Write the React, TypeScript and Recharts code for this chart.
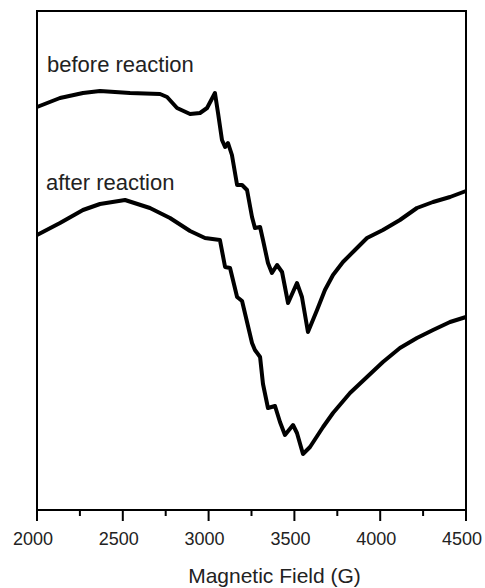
import React from 'react';
import { LineChart, Line, XAxis, YAxis, ReferenceArea } from 'recharts';

// field (G) and signal (arb. units)
const beforeField = [
  2000, 2134, 2268, 2367, 2542, 2717, 2758, 2816, 2892, 2950, 2991, 3037, 3055, 3078,
  3096, 3113, 3136, 3166, 3195, 3224, 3253, 3270, 3300, 3317, 3346, 3369, 3399, 3428,
  3463, 3515, 3544, 3579, 3632, 3678, 3725, 3783, 3853, 3923, 4016, 4115, 4214, 4308,
  4407, 4500,
];
const beforeSignal = [
  403, 412, 417, 419, 417, 416, 413, 402, 396, 397, 402, 417, 397, 370,
  363, 367, 355, 325, 325, 320, 293, 282, 283, 270, 247, 237, 245, 238,
  207, 227, 213, 178, 200, 220, 235, 248, 260, 272, 280, 290, 302, 308,
  313, 319,
];

const afterField = [
  2000, 2134, 2268, 2367, 2513, 2658, 2775, 2892, 2979, 3066, 3096, 3125, 3166, 3195,
  3253, 3270, 3300, 3317, 3346, 3387, 3416, 3445, 3492, 3515, 3550, 3591, 3667, 3725,
  3824, 3923, 4016, 4115, 4214, 4308, 4407, 4500,
];
const afterSignal = [
  275, 287, 300, 306, 310, 302, 292, 279, 272, 270, 243, 242, 213, 209,
  167, 160, 153, 126, 102, 104, 88, 75, 85, 77, 56, 63, 83, 97,
  117, 133, 148, 162, 172, 180, 188, 193,
];

const xTicks = [2000, 2250, 2500, 2750, 3000, 3250, 3500, 3750, 4000, 4250, 4500];
const labelTicks = [2000, 2500, 3000, 3500, 4000, 4500];

const beforeData = beforeField.map((f, i) => ({ field: f, signal: beforeSignal[i] }));
const afterData = afterField.map((f, i) => ({ field: f, signal: afterSignal[i] }));

const FONT = '"Liberation Sans", Arial, Helvetica, sans-serif';

const FieldTick = (props: any) => {
  const { x, y, payload } = props;
  const major = labelTicks.includes(payload.value);
  return (
    <g>
      <line x1={x} y1={y} x2={x} y2={y + (major ? 11 : 6)} stroke="#000" strokeWidth={2} />
      {major && (
        <text x={x - 4} y={y + 35} textAnchor="middle" fontSize={18} fill="#222" fontFamily={FONT}>
          {payload.value}
        </text>
      )}
    </g>
  );
};

const App: React.FC = () => {
  return (
    <div style={{ position: 'absolute', left: 0, top: 0, width: 485, height: 588, background: '#fff' }}>
      <LineChart width={485} height={588} margin={{ top: 11, right: 19, left: 37, bottom: 0 }}>
        <XAxis
          type="number"
          dataKey="field"
          domain={[2000, 4500]}
          ticks={xTicks}
          interval={0}
          allowDuplicatedCategory={false}
          height={78}
          tickSize={0}
          tickMargin={0}
          axisLine={false}
          tickLine={false}
          tick={<FieldTick />}
          label={{
            content: (p: any) => {
              const vb = p.viewBox;
              return (
                <text
                  x={vb.x + vb.width / 2 + 23}
                  y={vb.y + 73}
                  textAnchor="middle"
                  fontSize={21}
                  fill="#222"
                  fontFamily={FONT}
                >
                  Magnetic Field (G)
                </text>
              );
            },
          }}
        />
        <YAxis type="number" dataKey="signal" domain={[0, 499]} hide />
        <ReferenceArea
          x1={2000}
          x2={4500}
          y1={0}
          y2={499}
          stroke="#000"
          strokeWidth={2}
          fill="none"
          fillOpacity={0}
          ifOverflow="visible"
        />
        <Line
          data={beforeData}
          dataKey="signal"
          type="linear"
          stroke="#000"
          strokeWidth={4}
          strokeLinejoin="round"
          dot={false}
          isAnimationActive={false}
        />
        <Line
          data={afterData}
          dataKey="signal"
          type="linear"
          stroke="#000"
          strokeWidth={4}
          strokeLinejoin="round"
          dot={false}
          isAnimationActive={false}
        />
      </LineChart>
      <svg
        width={485}
        height={588}
        style={{ position: 'absolute', left: 0, top: 0, pointerEvents: 'none' }}
      >
        <text x={47} y={72} fontSize={22} fill="#222" fontFamily={FONT}>
          before reaction
        </text>
        <text x={46} y={190} fontSize={22} fill="#222" fontFamily={FONT}>
          after reaction
        </text>
      </svg>
    </div>
  );
};

export default App;
